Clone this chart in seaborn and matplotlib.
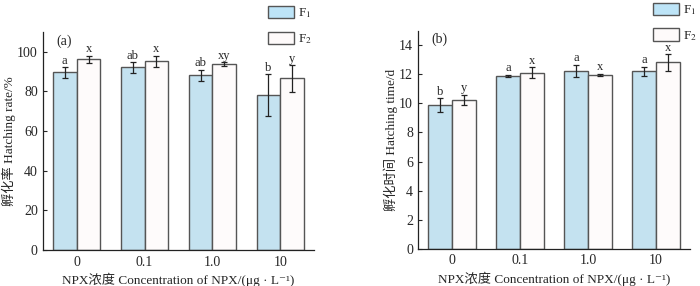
import numpy as np
import pandas as pd
import matplotlib
matplotlib.use("Agg")
import matplotlib.pyplot as plt
import seaborn as sns
from matplotlib.patches import Patch

conc = ["0", "0.1", "1.0", "10"]
gens = ["F1", "F2"]

# (a) hatching rate
rate_f1 = [89.6, 92.1, 88.1, 78.2]
rate_f2 = [96.3, 95.3, 93.8, 86.6]
rate_err_f1 = [2.6, 2.7, 2.9, 10.5]
rate_err_f2 = [1.7, 2.8, 1.0, 6.7]
rate_lab_f1 = ["a", "ab", "ab", "b"]
rate_lab_f2 = ["x", "x", "xy", "y"]

# (b) hatching time
time_f1 = [9.89, 11.88, 12.22, 12.19]
time_f2 = [10.25, 12.10, 11.97, 12.81]
time_err_f1 = [0.47, 0.08, 0.44, 0.34]
time_err_f2 = [0.33, 0.38, 0.08, 0.58]
time_lab_f1 = ["b", "a", "a", "a"]
time_lab_f2 = ["y", "x", "x", "x"]

sns.set_style("ticks")
serif = ["Liberation Serif", "Noto Sans CJK SC", "DejaVu Sans"]
plt.rcParams["font.family"] = serif
plt.rcParams["mathtext.fontset"] = "stix"

colors = {"F1": "#BDE4F7", "F2": "#FEFAFA"}
edge = "#555555"


def panel(ax, f1, f2, e1, e2, l1, l2, ylim, yticks, ylabel, tag, lab_off):
    df = pd.DataFrame({
        "conc": conc * 2,
        "gen": ["F1"] * 4 + ["F2"] * 4,
        "val": f1 + f2,
    })
    sns.barplot(data=df, x="conc", y="val", hue="gen", hue_order=gens,
                palette=colors, edgecolor=edge, linewidth=1.0,
                width=0.7, errorbar=None, ax=ax, legend=False)
    xs = np.arange(4)
    w = 0.35
    for off, vals, errs, labs in [(-w / 2, f1, e1, l1), (w / 2, f2, e2, l2)]:
        ax.errorbar(xs + off, vals, yerr=errs, fmt="none", ecolor="#222222",
                    elinewidth=0.9, capsize=2.2, capthick=0.9)
        for x, v, e, t in zip(xs + off, vals, errs, labs):
            ax.text(x, v + e + lab_off, t, ha="center", va="bottom",
                    fontsize=9, family=serif)
    ax.set_xlim(-0.5, 3.5)
    ax.set_ylim(*ylim)
    ax.set_yticks(yticks)
    ax.set_xticks(xs)
    ax.set_xticklabels(conc)
    ax.tick_params(axis="y", direction="in", length=3, labelsize=10)
    ax.tick_params(axis="x", direction="out", length=0, labelsize=10, pad=4)
    for s in ["top", "right"]:
        ax.spines[s].set_visible(False)
    for s in ["left", "bottom"]:
        ax.spines[s].set_linewidth(0.9)
        ax.spines[s].set_color("#222222")
    ax.set_ylabel(ylabel, fontsize=9.5, family=serif, labelpad=1)
    ax.set_xlabel("NPX浓度 Concentration of NPX/(μg · L⁻¹)", fontsize=9.5,
                  family=serif, labelpad=3)
    ax.text(0.05, 0.99, tag, transform=ax.transAxes, ha="left", va="top",
            fontsize=10, family=serif)


fig = plt.figure(figsize=(7.0, 2.86), dpi=100)
ax1 = fig.add_axes([0.061, 0.126, 0.388, 0.762])
ax2 = fig.add_axes([0.597, 0.130, 0.389, 0.763])

panel(ax1, rate_f1, rate_f2, rate_err_f1, rate_err_f2, rate_lab_f1, rate_lab_f2,
      (0, 110), [0, 20, 40, 60, 80, 100], "孵化率 Hatching rate/%", "(a)", 0.3)
panel(ax2, time_f1, time_f2, time_err_f1, time_err_f2, time_lab_f1, time_lab_f2,
      (0, 15), [0, 2, 4, 6, 8, 10, 12, 14], "孵化时间 Hatching time/d", "(b)", 0.03)

handles = [Patch(facecolor=colors[g], edgecolor=edge, linewidth=1.0) for g in gens]
labels = [r"F$_1$", r"F$_2$"]
for anchor in [(0.383, 0.979), (0.933, 0.99)]:
    fig.legend(handles, labels, loc="upper left", bbox_to_anchor=anchor,
               frameon=False, handlelength=2.0, handleheight=1.05,
               labelspacing=0.85, handletextpad=0.25, fontsize=9.5,
               borderaxespad=0, borderpad=0)

fig.savefig("out.png", dpi=100)
